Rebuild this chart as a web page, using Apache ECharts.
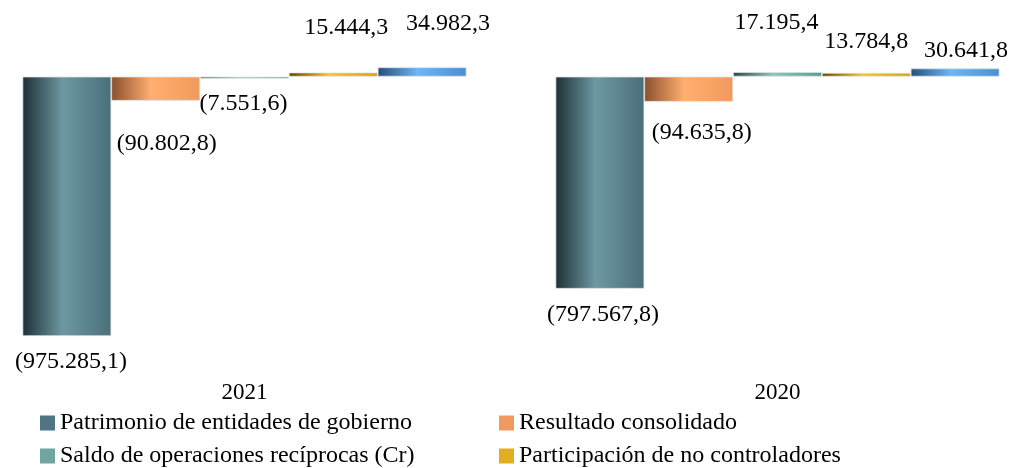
<!DOCTYPE html>
<html>
<head>
<meta charset="utf-8">
<script src="https://cdn.jsdelivr.net/npm/echarts@6/dist/echarts.min.js"></script>
<style>
  html, body { margin: 0; padding: 0; background: #fff; }
  #chart { width: 1015px; height: 468px; }
</style>
</head>
<body>
<div id="chart"></div>
<script>
// datos del gráfico
const years = ['2021', '2020'];
const seriesNames = [
    'Patrimonio de entidades de gobierno',
    'Resultado consolidado',
    'Saldo de operaciones recíprocas (Cr)',
    'Participación de no controladores',
    'Otros'
];
const patrimonio = [-975285.1, -797567.8];
const resultado = [-90802.8, -94635.8];
const saldo = [-7551.6, 17195.4];
const participacion = [15444.3, 13784.8];
const otros = [34982.3, 30641.8];

// estilos (colores y desplazamiento de etiquetas)
const gradients = [
    ['#1d3037', '#6d98a2', '#4a6f7a'],
    ['#8a4f2c', '#ffaf70', '#f09a5c'],
    ['#2a4848', '#8cc6be', '#5c9a94'],
    ['#5a4400', '#f5c428', '#d4a017'],
    ['#234d7a', '#6eb6f2', '#4a8fd0']
];
const legendColors = ['#4e7485', '#f09a60', '#6ea59c', '#e0ae1e'];
const labelShift = [
    [[4, 14], [3, 14]],
    [[11, 31], [13, 19]],
    [[-1, 13], [-1, -37]],
    [[13, -33], [0, -19]],
    [[26, -32], [11, -6]]
];

const FONT = '"Liberation Serif", "Times New Roman", serif';

// formato 1.234,5 y negativos entre paréntesis
function fmt(v) {
    const parts = Math.abs(v).toFixed(1).split('.');
    const s = parts[0].replace(/\B(?=(\d{3})+(?!\d))/g, '.') + ',' + parts[1];
    return v < 0 ? '(' + s + ')' : s;
}

const chart = echarts.init(document.getElementById('chart'));
const allValues = [patrimonio, resultado, saldo, participacion, otros];

const series = allValues.map((values, i) => ({
    name: seriesNames[i],
    type: 'bar',
    barWidth: 88.8,
    barGap: '0%',
    itemStyle: {
        color: new echarts.graphic.LinearGradient(0, 0, 1, 0, [
            { offset: 0, color: gradients[i][0] },
            { offset: 0.45, color: gradients[i][1] },
            { offset: 1, color: gradients[i][2] }
        ]),
        borderColor: 'rgba(225,225,225,0.9)',
        borderWidth: 0.8
    },
    data: values.map((v, j) => ({
        value: v,
        label: {
            show: true,
            position: v < 0 ? 'bottom' : 'top',
            distance: 0,
            offset: labelShift[i][j],
            formatter: p => fmt(p.value),
            color: '#000',
            fontFamily: FONT,
            fontSize: 24
        }
    }))
}));

const legendPos = [[40, 411], [499, 411], [40, 444], [499, 444]];
const legends = legendPos.map((pos, i) => ({
    left: pos[0],
    top: pos[1],
    padding: 0,
    itemWidth: 15,
    itemHeight: 15,
    icon: 'rect',
    selectedMode: false,
    textStyle: { fontFamily: FONT, fontSize: 24, color: '#000' },
    data: [{
        name: seriesNames[i],
        itemStyle: { color: legendColors[i], borderWidth: 0 }
    }]
}));

chart.setOption({
    animation: false,
    grid: {
        left: -22,
        right: -29,
        top: 50,
        bottom: 125.4,
        outerBoundsMode: 'none'
    },
    legend: legends,
    xAxis: {
        type: 'category',
        data: years,
        axisLine: { show: false, onZero: false },
        axisTick: { show: false },
        axisLabel: {
            margin: 39,
            color: '#000',
            fontFamily: FONT,
            fontSize: 23
        }
    },
    yAxis: {
        type: 'value',
        min: -1000000,
        max: 100000,
        show: false,
        splitLine: { show: false }
    },
    series: series
});
</script>
</body>
</html>
